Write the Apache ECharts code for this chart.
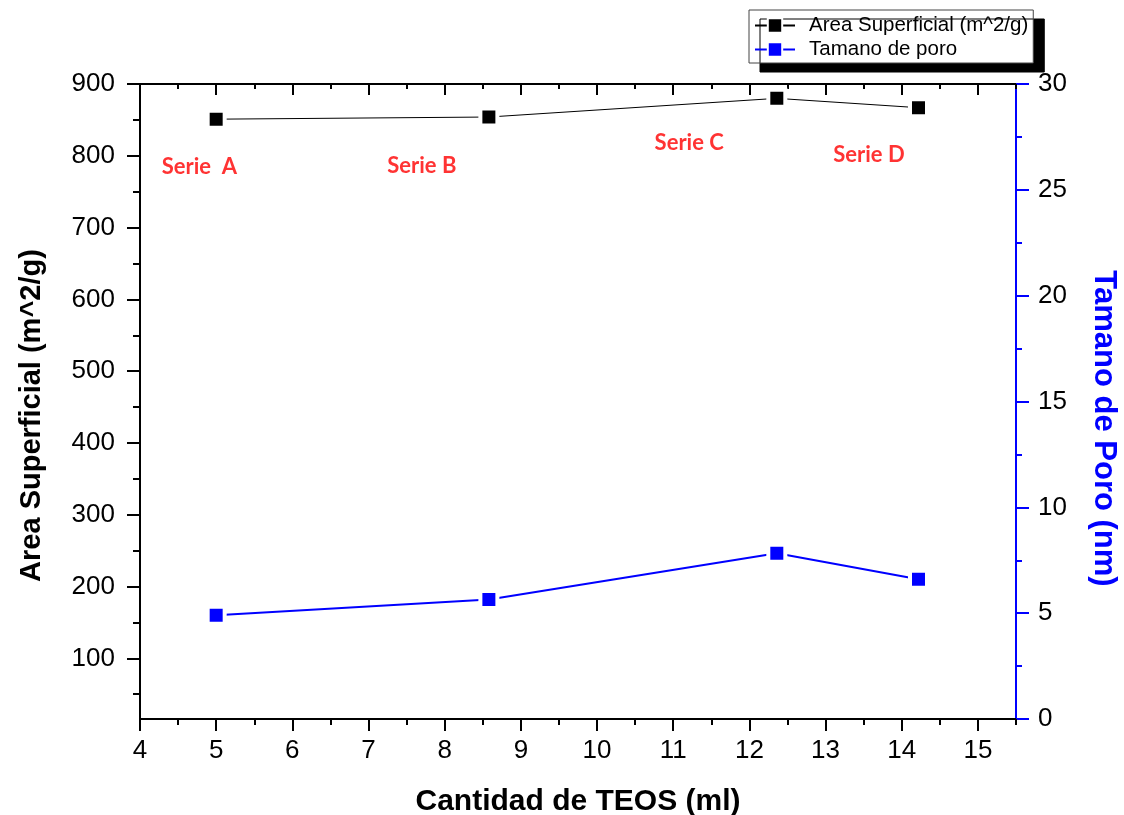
<!DOCTYPE html>
<html>
<head>
<meta charset="utf-8">
<script src="https://cdn.jsdelivr.net/npm/echarts@6/dist/echarts.min.js"></script>
<style>
  html, body { margin: 0; padding: 0; background: #fff; }
  #chart { width: 1124px; height: 815px; }
</style>
</head>
<body>
<div id="chart"></div>
<script>
// TEOS volume (ml) for the four samples
const teos = [5, 8.58, 12.36, 14.22];
// Specific surface area (m^2/g)
const area = [851, 854, 880, 867];
// Pore size (nm)
const pore = [4.9, 5.65, 7.83, 6.6];

// Sample annotations, placed in data coordinates (x, surface area)
const noteNames = ['Serie  A', 'Serie B', 'Serie C', 'Serie D'];
const noteX = [4.78, 7.70, 11.21, 13.57];
const noteY = [784, 786, 818, 801];

// Tick values
const xMajor = [4, 5, 6, 7, 8, 9, 10, 11, 12, 13, 14, 15];
const xMinor = [4.5, 5.5, 6.5, 7.5, 8.5, 9.5, 10.5, 11.5, 12.5, 13.5, 14.5, 15.5];
const leftMajor = [100, 200, 300, 400, 500, 600, 700, 800, 900];
const leftMinor = [50, 150, 250, 350, 450, 550, 650, 750, 850];
const rightMajor = [0, 5, 10, 15, 20, 25, 30];
const rightMinor = [2.5, 7.5, 12.5, 17.5, 22.5, 27.5];

const X_MIN = 4, X_MAX = 15.5;
const L_MIN = 15.5, L_MAX = 900;
const R_MIN = 0, R_MAX = 30;

const FONT = '"Liberation Sans", Arial, sans-serif';
const BLUE = '#0000ff';

function hiddenLabel() { return { show: false }; }

const chart = echarts.init(document.getElementById('chart'), null, { renderer: 'canvas' });

const option = {
  animation: false,
  backgroundColor: '#fff',
  textStyle: { fontFamily: FONT },
  grid: { left: 140, right: 108, top: 84, bottom: 96, containLabel: false, outerBoundsMode: 'none' },
  legend: {
    orient: 'vertical',
    left: 749, top: 10,
    padding: [5, 5, 3, 5],
    itemGap: 3,
    itemWidth: 40, itemHeight: 18,
    backgroundColor: '#fff',
    borderColor: '#444', borderWidth: 1,
    shadowColor: '#000', shadowBlur: 0, shadowOffsetX: 11, shadowOffsetY: 9,
    itemStyle: { borderWidth: 2 },
    textStyle: { fontFamily: FONT, fontSize: 20.5, color: '#000', padding: [0, 0, 0, 9] },
    data: ['Area Superficial (m^2/g)', 'Tamano de poro']
  },
  xAxis: [
    {
      type: 'value', position: 'bottom', min: X_MIN, max: X_MAX,
      name: 'Cantidad de TEOS (ml)', nameLocation: 'middle', nameGap: 68,
      nameTextStyle: { fontFamily: FONT, fontSize: 30, fontWeight: 'bold', color: '#000' },
      axisLine: { onZero: false, lineStyle: { color: '#000', width: 2 } },
      axisTick: { customValues: xMajor, length: 12, lineStyle: { color: '#000', width: 2 } },
      axisLabel: { customValues: xMajor, fontSize: 26, color: '#000', margin: 19, fontFamily: FONT },
      splitLine: { show: false }
    },
    {
      type: 'value', position: 'bottom', min: X_MIN, max: X_MAX,
      axisLine: { show: false, onZero: false },
      axisTick: { customValues: xMinor, length: 6, lineStyle: { color: '#000', width: 2 } },
      axisLabel: hiddenLabel(),
      splitLine: { show: false }
    },
    {
      type: 'value', position: 'top', min: X_MIN, max: X_MAX,
      axisLine: { onZero: false, lineStyle: { color: '#000', width: 2 } },
      axisTick: { inside: true, customValues: xMajor, length: 11, lineStyle: { color: '#000', width: 2 } },
      axisLabel: hiddenLabel(),
      splitLine: { show: false }
    },
    {
      type: 'value', position: 'top', min: X_MIN, max: X_MAX,
      axisLine: { show: false, onZero: false },
      axisTick: { inside: true, customValues: xMinor, length: 5, lineStyle: { color: '#000', width: 2 } },
      axisLabel: hiddenLabel(),
      splitLine: { show: false }
    }
  ],
  yAxis: [
    {
      type: 'value', position: 'left', min: L_MIN, max: L_MAX,
      name: 'Area Superficial (m^2/g)', nameLocation: 'middle', nameGap: 94,
      nameTextStyle: { fontFamily: FONT, fontSize: 29, fontWeight: 'bold', color: '#000', padding: [0, 28, 0, 0] },
      axisLine: { show: true, onZero: false, lineStyle: { color: '#000', width: 2 } },
      axisTick: { show: true, customValues: leftMajor, length: 13, lineStyle: { color: '#000', width: 2 } },
      axisLabel: { customValues: leftMajor, fontSize: 26, color: '#000', margin: 25, fontFamily: FONT },
      splitLine: { show: false }
    },
    {
      type: 'value', position: 'left', min: L_MIN, max: L_MAX,
      axisLine: { show: false, onZero: false },
      axisTick: { show: true, customValues: leftMinor, length: 7, lineStyle: { color: '#000', width: 2 } },
      axisLabel: hiddenLabel(),
      splitLine: { show: false }
    },
    {
      type: 'value', position: 'right', min: R_MIN, max: R_MAX,
      name: 'Tamano de Poro (nm)', nameLocation: 'middle', nameGap: 72, nameRotate: -90,
      nameTextStyle: { fontFamily: FONT, fontSize: 31, fontWeight: 'bold', color: BLUE, padding: [0, 0, 0, 54] },
      axisLine: { show: true, onZero: false, lineStyle: { color: BLUE, width: 2 } },
      axisTick: { show: true, customValues: rightMajor, length: 13, lineStyle: { color: BLUE, width: 2 } },
      axisLabel: { customValues: rightMajor, fontSize: 26, color: '#000', margin: 22, fontFamily: FONT },
      splitLine: { show: false }
    },
    {
      type: 'value', position: 'right', min: R_MIN, max: R_MAX,
      axisLine: { show: false, onZero: false },
      axisTick: { show: true, customValues: rightMinor, length: 6, lineStyle: { color: BLUE, width: 2 } },
      axisLabel: hiddenLabel(),
      splitLine: { show: false }
    }
  ],
  series: [
    {
      name: 'Area Superficial (m^2/g)',
      type: 'line', xAxisIndex: 0, yAxisIndex: 0,
      data: teos.map((x, i) => [x, area[i]]),
      symbol: 'rect', symbolSize: 17,
      lineStyle: { color: '#000', width: 1 },
      itemStyle: { color: '#000', borderColor: '#fff', borderWidth: 4 },
      z: 3
    },
    {
      name: 'Tamano de poro',
      type: 'line', xAxisIndex: 0, yAxisIndex: 2,
      data: teos.map((x, i) => [x, pore[i]]),
      symbol: 'rect', symbolSize: 17,
      lineStyle: { color: BLUE, width: 2 },
      itemStyle: { color: BLUE, borderColor: '#fff', borderWidth: 4 },
      z: 3
    },
    {
      name: 'notes',
      type: 'scatter', xAxisIndex: 0, yAxisIndex: 0,
      data: noteNames.map((n, i) => ({ name: n, value: [noteX[i], noteY[i]] })),
      symbolSize: 0,
      silent: true,
      label: {
        show: true, position: 'inside',
        formatter: p => p.name,
        color: '#ff0000', fontWeight: 'bold', fontSize: 22,
        fontFamily: 'Lato, "Open Sans", sans-serif'
      }
    }
  ]
};

chart.setOption(option);
</script>
</body>
</html>
